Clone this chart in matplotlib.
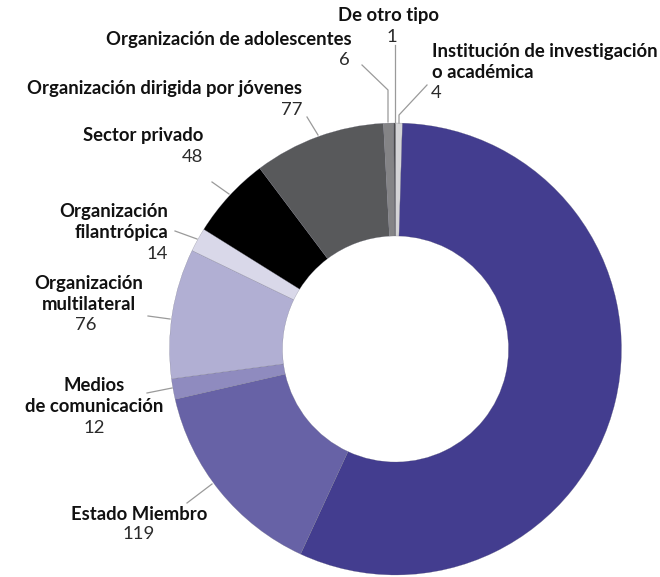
import matplotlib
matplotlib.use("Agg")
import matplotlib.pyplot as plt

# Data (clockwise from 12 o'clock)
categories = ["Institución de investigación\no académica", "(sin etiqueta)", "Estado Miembro",
              "Medios\nde comunicación", "Organización\nmultilateral", "Organización\nfilantrópica",
              "Sector privado", "Organización dirigida por jóvenes",
              "Organización de adolescentes", "De otro tipo"]
values = [4, 462, 119, 12, 76, 14, 48, 77, 6, 1]
colors = ["#d4d4d6", "#433d8f", "#6762a6", "#8f8bbf", "#b1afd3", "#d9d8e9",
          "#000000", "#58595b", "#848486", "#4a4a4c"]

W, H = 660, 577
CX, CY, R = 395.5, 349, 226

fig = plt.figure(figsize=(W / 100, H / 100), dpi=100)
ax = fig.add_axes([0, 0, 1, 1])

ax.pie(values, colors=colors, startangle=90, counterclock=False, radius=1,
       wedgeprops=dict(width=0.5, edgecolor="#6a6a7a", linewidth=0.15))

ax.set_aspect("auto")
ax.set_xlim(-CX / R, (W - CX) / R)
ax.set_ylim((CY - H) / R, CY / R)
ax.axis("off")


def P(x, y):
    return ((x - CX) / R, (CY - y) / R)


bold = dict(fontfamily="Lato", fontweight="bold", fontsize=13.3, color="#111111")
num = dict(fontfamily="Lato", fontweight="normal", fontsize=13.3, color="#2a2a2a")

# label, number, label pos, number pos, align
labels = [
    ("De otro tipo", "1", (388, 15), (392, 37), "center", "center"),
    ("Organización de adolescentes", "6", (352, 39), (350, 60), "right", "right"),
    ("Institución de investigación\no académica", "4", (432, 62), (431, 93), "left", "left"),
    ("Organización dirigida por jóvenes", "77", (302, 88), (302, 110), "right", "right"),
    ("Sector privado", "48", (203, 135), (203, 157), "right", "right"),
    ("Organización\nfilantrópica", "14", (168, 222), (168, 254), "right", "right"),
    ("Organización\nmultilateral", "76", (89, 294), (86, 325), "center", "center"),
    ("Medios\nde comunicación", "12", (94, 396), (94, 428), "center", "center"),
    ("Estado Miembro", "119", (139, 514), (139, 534), "center", "center"),
]
for lab, n, lp, np_, ha1, ha2 in labels:
    ax.text(*P(*lp), lab, ha=ha1, va="center", linespacing=1.3, **bold)
    ax.text(*P(*np_), n, ha=ha2, va="center", **num)

leaders = [
    [(395, 45), (395, 123)],
    [(362, 65), (388, 90), (388, 122)],
    [(427, 85), (399, 115), (399, 123)],
    [(307, 117), (318, 135)],
    [(212, 182), (229, 194)],
    [(175, 231), (197, 239)],
    [(148, 316), (170, 319)],
    [(147, 393), (172, 388)],
    [(187, 503), (212, 484)],
]
for pts in leaders:
    xs, ys = zip(*[P(x, y) for x, y in pts])
    ax.plot(xs, ys, color="#9a9a9a", lw=0.9)

fig.savefig("out.png", dpi=100)
